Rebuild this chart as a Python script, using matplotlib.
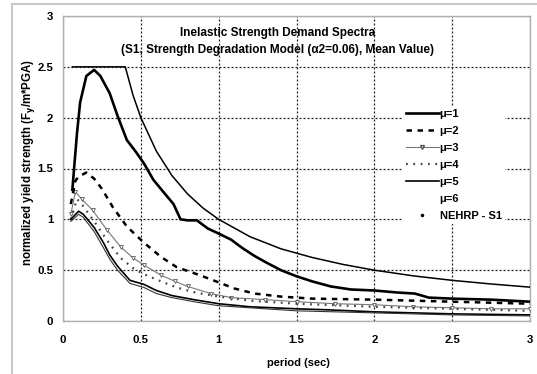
import matplotlib
matplotlib.use("Agg")
import matplotlib.pyplot as plt
from matplotlib.lines import Line2D
from matplotlib.patches import Rectangle

plt.rcParams['font.family'] = ['Liberation Sans', 'DejaVu Sans']

# ---------------- data ----------------
t_nehrp = [0.06, 0.40, 0.45, 0.50, 0.60, 0.70, 0.80, 0.90, 1.00, 1.20, 1.40, 1.60,
           1.80, 2.00, 2.25, 2.50, 2.75, 3.00]
v_nehrp = [2.50, 2.50, 2.22, 2.00, 1.67, 1.43, 1.25, 1.11, 1.00, 0.83, 0.71, 0.625,
           0.556, 0.50, 0.444, 0.40, 0.364, 0.333]

t_mu1 = [0.06, 0.09, 0.11, 0.15, 0.20, 0.24, 0.30, 0.35, 0.41, 0.47, 0.52, 0.58,
         0.65, 0.71, 0.755, 0.80, 0.86, 0.93, 1.00, 1.08, 1.15, 1.23, 1.30, 1.40,
         1.50, 1.60, 1.72, 1.85, 2.00, 2.15, 2.26, 2.35, 2.50, 2.75, 3.00]
v_mu1 = [1.29, 1.85, 2.15, 2.41, 2.47, 2.41, 2.24, 2.02, 1.78, 1.66, 1.55, 1.39,
         1.26, 1.15, 1.00, 0.99, 0.99, 0.91, 0.86, 0.80, 0.72, 0.64, 0.58, 0.50,
         0.44, 0.39, 0.34, 0.31, 0.30, 0.28, 0.27, 0.23, 0.22, 0.21, 0.19]

t_mu2 = [0.05, 0.08, 0.10, 0.15, 0.20, 0.25, 0.32, 0.41, 0.52, 0.63, 0.73, 0.88,
         1.00, 1.10, 1.23, 1.40, 1.60, 2.00, 2.50, 3.00]
v_mu2 = [1.15, 1.38, 1.42, 1.46, 1.40, 1.30, 1.12, 0.93, 0.77, 0.63, 0.53, 0.45,
         0.38, 0.32, 0.27, 0.24, 0.22, 0.21, 0.19, 0.17]

t_mu3 = [0.05, 0.08, 0.12, 0.19, 0.28, 0.37, 0.45, 0.52, 0.63, 0.72, 0.80, 0.95,
         1.08, 1.30, 1.50, 1.75, 2.00, 2.25, 2.50, 2.75, 3.00]
v_mu3 = [1.05, 1.27, 1.20, 1.09, 0.90, 0.73, 0.62, 0.55, 0.45, 0.39, 0.34, 0.27,
         0.23, 0.21, 0.19, 0.17, 0.16, 0.14, 0.13, 0.12, 0.12]

t_mu4 = [0.05, 0.09, 0.12, 0.20, 0.28, 0.37, 0.45, 0.52, 0.63, 0.73, 0.85, 1.00,
         1.20, 1.50, 2.00, 2.50, 3.00]
v_mu4 = [1.00, 1.20, 1.15, 0.98, 0.80, 0.62, 0.52, 0.46, 0.39, 0.33, 0.28, 0.24,
         0.20, 0.17, 0.14, 0.12, 0.10]

t_mu5 = [0.05, 0.10, 0.13, 0.20, 0.26, 0.30, 0.35, 0.43, 0.52, 0.60, 0.70, 0.84,
         1.00, 1.20, 1.50, 1.70, 2.00, 2.50, 3.00]
v_mu5 = [1.00, 1.08, 1.05, 0.92, 0.77, 0.65, 0.54, 0.40, 0.36, 0.30, 0.25, 0.21,
         0.17, 0.14, 0.12, 0.11, 0.09, 0.07, 0.06]

t_mu6 = [0.05, 0.10, 0.13, 0.20, 0.26, 0.30, 0.35, 0.43, 0.52, 0.60, 0.70, 0.84,
         1.00, 1.20, 1.50, 2.00, 2.50, 3.00]
v_mu6 = [0.98, 1.05, 1.02, 0.88, 0.72, 0.61, 0.50, 0.37, 0.33, 0.27, 0.23, 0.19,
         0.15, 0.13, 0.10, 0.08, 0.06, 0.05]

labels = ["μ=1", "μ=2", "μ=3", "μ=4", "μ=5", "μ=6", "NEHRP - S1"]
x_ticks = [0, 0.5, 1, 1.5, 2, 2.5, 3]
x_tick_labels = ["0", "0.5", "1", "1.5", "2", "2.5", "3"]
y_ticks = [0, 0.5, 1, 1.5, 2, 2.5, 3]
y_tick_labels = ["0", "0.5", "1", "1.5", "2", "2.5", "3"]

# ---------------- figure ----------------
W, H = 537, 374
fig = plt.figure(figsize=(W / 100, H / 100), dpi=100)
ax = fig.add_axes([63 / W, (H - 321) / H, (530 - 63) / W, (321 - 16) / H])

# outer frame
fig.patches.append(Rectangle((12 / W, -0.05), 1.2, (H - 4) / H + 0.05,
                             transform=fig.transFigure, fill=False,
                             edgecolor='#c8c8c8', lw=1.5))

ax.plot(t_nehrp, v_nehrp, color='black', lw=1.1, zorder=3)
ax.plot(t_mu1, v_mu1, color='black', lw=1.9, zorder=4)
ax.plot(t_mu2, v_mu2, color='black', lw=1.8, dashes=(2.2, 2.2), zorder=4)
ax.plot(t_mu3, v_mu3, color='#777777', lw=0.8, marker='v', ms=2.8,
        mfc='white', mec='#555555', mew=0.6, zorder=3)
ax.plot(t_mu4, v_mu4, color='#444444', lw=1.6, dashes=(0.8, 2.5), zorder=3)
ax.plot(t_mu5, v_mu5, color='black', lw=1.2, zorder=3)
ax.plot(t_mu6, v_mu6, color='#333333', lw=0.8, zorder=3)

ax.set_xlim(0, 3)
ax.set_ylim(0, 3)
ax.set_xticks(x_ticks)
ax.set_xticklabels(x_tick_labels)
ax.set_yticks(y_ticks)
ax.set_yticklabels(y_tick_labels)
ax.tick_params(length=0, labelsize=8.2)
ax.tick_params(axis='x', pad=10)
ax.tick_params(axis='y', pad=7)
for lab in ax.get_xticklabels() + ax.get_yticklabels():
    lab.set_fontweight('bold')

ax.grid(True, color='#222222', lw=0.9, linestyle=(0, (1.6, 1.6)))
ax.set_axisbelow(True)
for sp in ax.spines.values():
    sp.set_color('#b0b0b0')
    sp.set_linewidth(1.0)

fig.text(298 / W, 1 - 363 / H, "period (sec)", fontsize=8, fontweight='bold',
         ha='center', va='center')
fig.text(29 / W, 1 - 162 / H, "normalized yield strength (F$_\\mathbf{y}$/m*PGA)",
         fontsize=8.3, fontweight='bold', rotation=90, ha='center', va='center')

ax.text(0.46, 0.943, "Inelastic Strength Demand Spectra", transform=ax.transAxes,
        ha='center', va='center', fontsize=8.5, fontweight='bold')
ax.text(0.46, 0.890, "(S1, Strength Degradation Model (α2=0.06), Mean Value)",
        transform=ax.transAxes, ha='center', va='center', fontsize=8.5,
        fontweight='bold')

handles = [
    Line2D([], [], color='black', lw=1.9),
    Line2D([], [], color='black', lw=1.8, dashes=(2.2, 2.2)),
    Line2D([], [], color='#777777', lw=0.8, marker='v', ms=2.8, mfc='white',
           mec='#555555', markevery=[1]),
    Line2D([], [], color='#444444', lw=1.6, dashes=(0.8, 2.5)),
    Line2D([], [], color='black', lw=1.2),
    Line2D([], [], linestyle='none'),
    Line2D([], [], linestyle='none', marker='.', ms=3, color='black'),
]
leg = ax.legend(handles, labels, loc='upper left',
                bbox_to_anchor=((403 - 63) / 467, (321 - 106) / 305),
                frameon=True, fancybox=False, edgecolor='none', framealpha=1,
                fontsize=8, handlelength=2.9, handletextpad=0.1,
                labelspacing=0.62, borderpad=0.3, borderaxespad=0)
for txt in leg.get_texts():
    txt.set_fontweight('bold')
leg.set_zorder(5)

fig.savefig("out.png", dpi=100)
